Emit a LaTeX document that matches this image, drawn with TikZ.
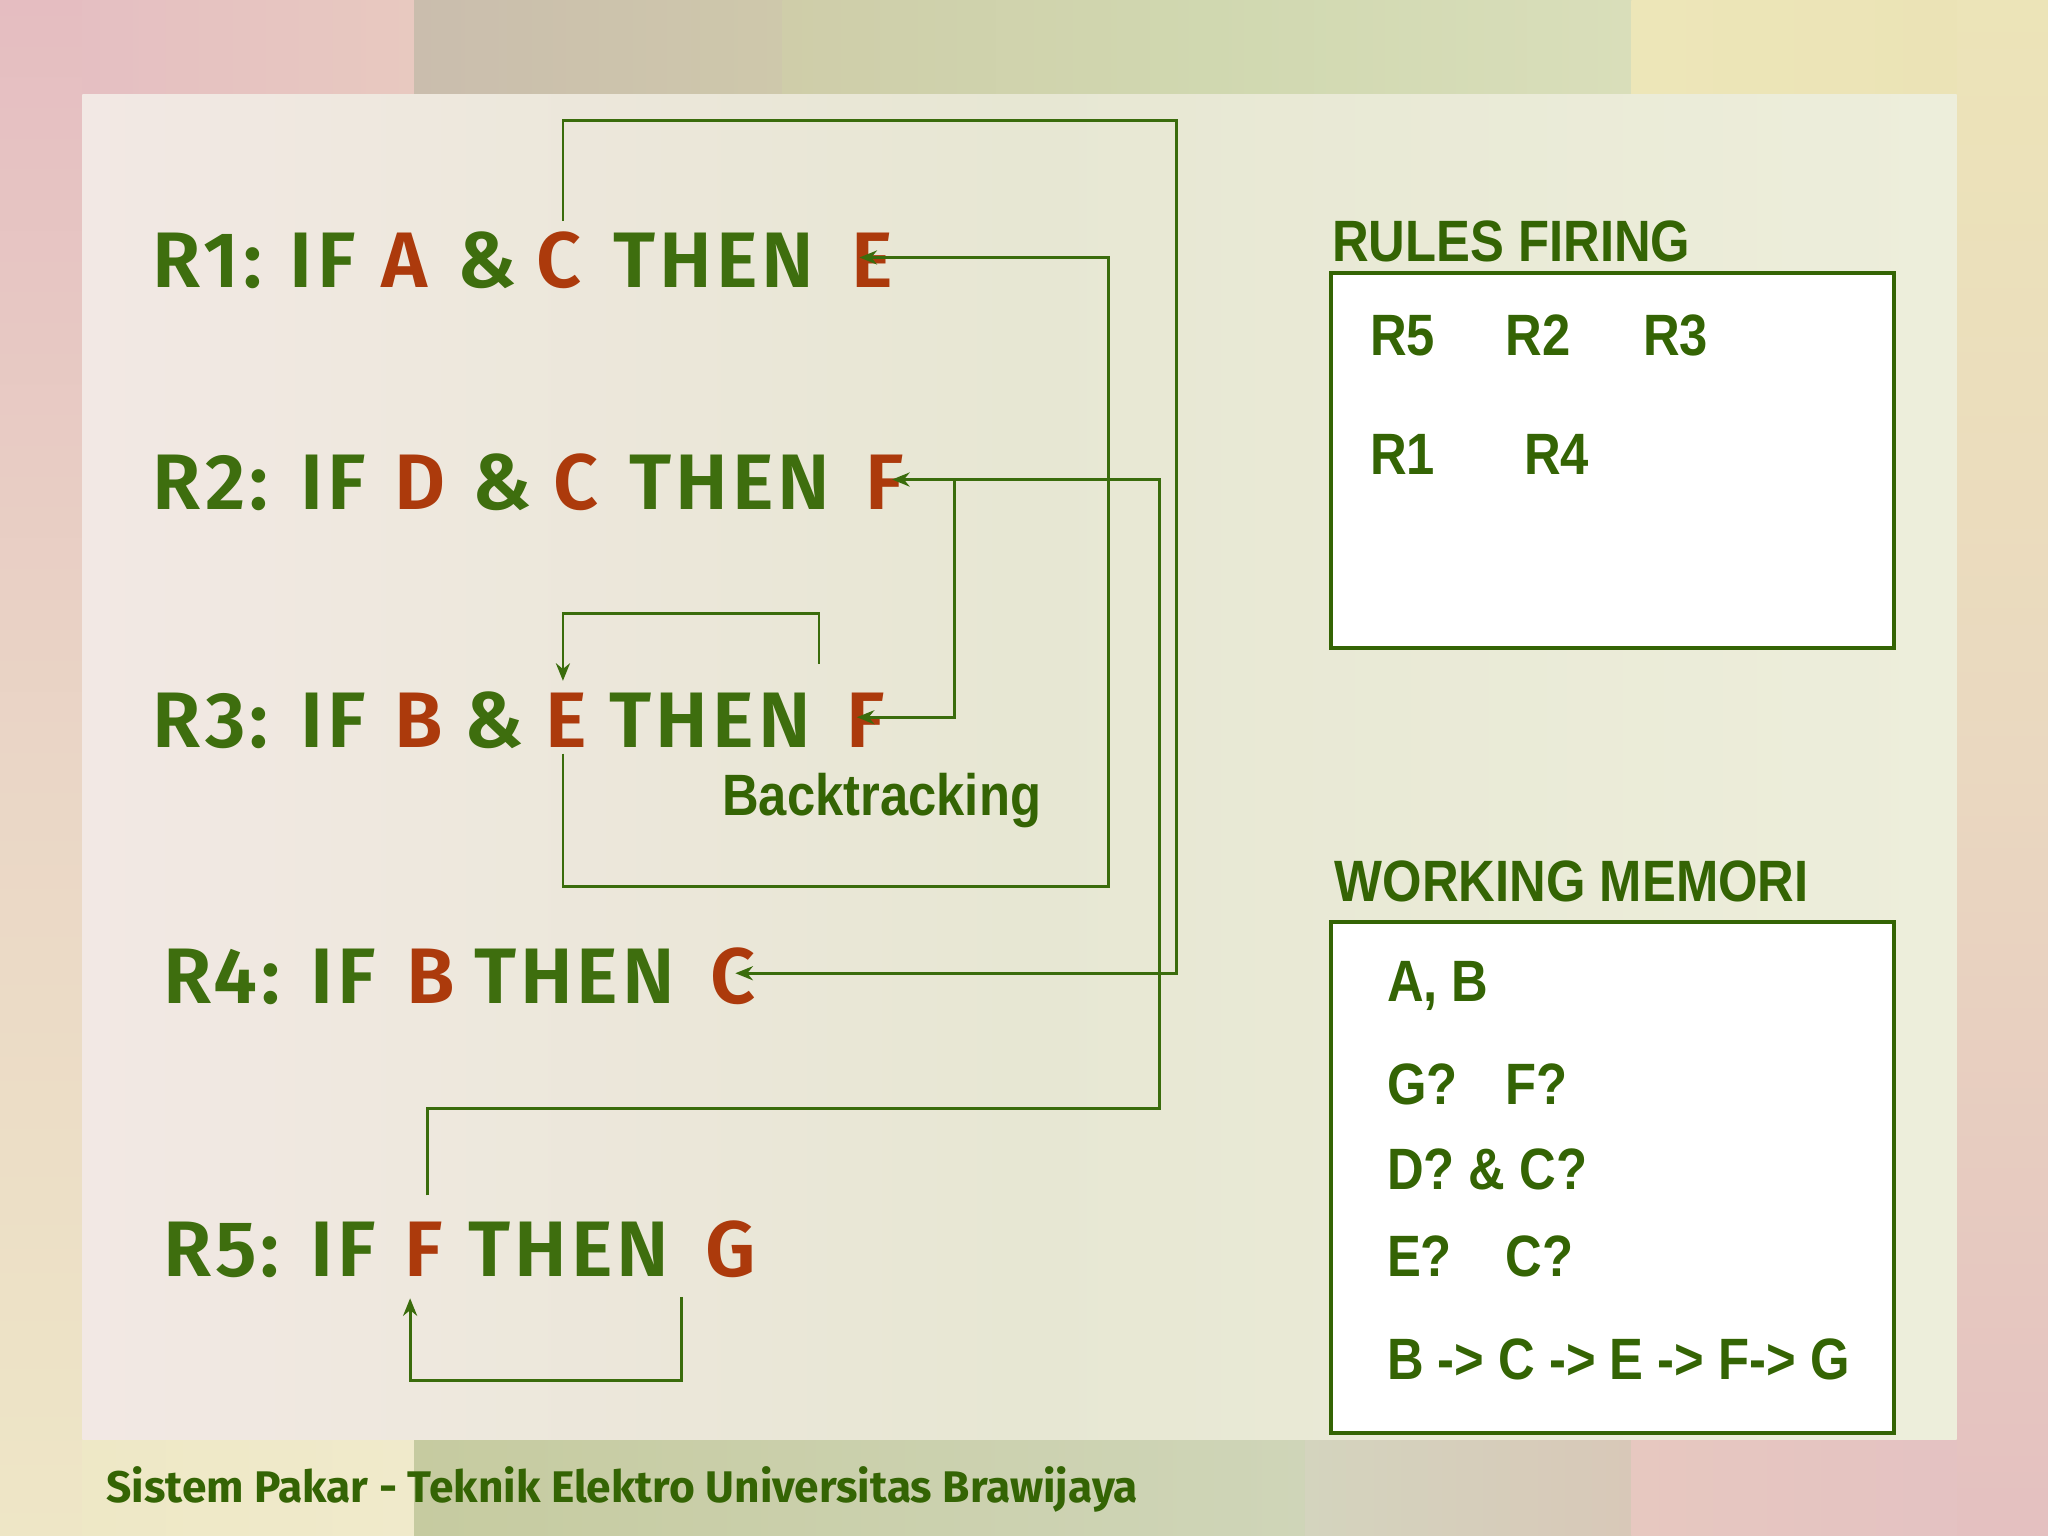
\documentclass[tikz,border=0pt]{standalone}
\usepackage{fontspec}
\setmainfont{Liberation Sans}
\newfontfamily\rulefont[LetterSpace=5]{Fira Sans SemiBold}
\newfontfamily\boxfont[FakeStretch=0.87]{Liberation Sans}
\newfontfamily\footfont{Fira Sans}
\usetikzlibrary{arrows.meta,calc}
\definecolor{rgreen}{RGB}{62,110,14}
\definecolor{rred}{RGB}{172,58,12}
\definecolor{bgreen}{RGB}{52,100,4}
\definecolor{lgreen}{RGB}{58,108,12}
\definecolor{pnlL}{RGB}{242,232,228}
\definecolor{pnlM}{RGB}{231,231,211}
\definecolor{pnlR}{RGB}{237,238,219}
\tikzset{
  rl/.style={anchor=base west, inner sep=0pt, outer sep=0pt, text=rgreen,
    font=\rulefont\fontsize{22.4}{28}\selectfont},
  rv/.style={rl, text=rred},
  bt/.style={anchor=base west, inner sep=0pt, outer sep=0pt, text=bgreen,
    font=\boxfont\bfseries\fontsize{16.6}{20}\selectfont},
  conn/.style={draw=lgreen, line width=0.8pt},
  arr/.style={conn, -{Stealth[length=5pt,width=4pt]}},
  panel/.style={draw=bgreen, line width=1pt, fill=white, anchor=north west,
    inner sep=0pt, outer sep=0pt},
}
\begin{document}
\begin{tikzpicture}[x=0.013061cm,y=-0.013061cm]
\useasboundingbox (0,0) rectangle (1568,1176);
% background margins
\shade[top color={rgb,255:red,229;green,189;blue,193}, bottom color={rgb,255:red,238;green,230;blue,198},
  middle color={rgb,255:red,234;green,214;blue,198}] (0,0) rectangle (64,1176);
\shade[top color={rgb,255:red,236;green,228;blue,184}, bottom color={rgb,255:red,228;green,192;blue,192},
  middle color={rgb,255:red,234;green,216;blue,192}] (1497,0) rectangle (1568,1176);
% top strip
\shade[left color={rgb,255:red,229;green,191;blue,194}, right color={rgb,255:red,232;green,201;blue,192}] (63,0) rectangle (318,73);
\shade[left color={rgb,255:red,202;green,189;blue,173}, right color={rgb,255:red,206;green,200;blue,171}] (317,0) rectangle (600,73);
\shade[left color={rgb,255:red,207;green,205;blue,169}, right color={rgb,255:red,217;green,222;blue,186},
  middle color={rgb,255:red,208;green,216;blue,176}] (599,0) rectangle (1250,73);
\shade[left color={rgb,255:red,237;green,230;blue,184}, right color={rgb,255:red,235;green,227;blue,182}] (1249,0) rectangle (1498,73);
% bottom strip
\shade[left color={rgb,255:red,238;green,232;blue,198}, right color={rgb,255:red,240;green,234;blue,203}] (63,1101) rectangle (318,1176);
\shade[left color={rgb,255:red,198;green,203;blue,160}, right color={rgb,255:red,207;green,213;blue,184}] (317,1101) rectangle (1000,1176);
\shade[left color={rgb,255:red,212;green,212;blue,190}, right color={rgb,255:red,216;green,200;blue,184}] (999,1101) rectangle (1250,1176);
\shade[left color={rgb,255:red,231;green,200;blue,192}, right color={rgb,255:red,228;green,194;blue,194}] (1249,1101) rectangle (1498,1176);
% panel
\shade[left color=pnlL, right color=pnlR, middle color=pnlM] (63,72) rectangle (1498,1102);

% rules
\node[rl] (r1lbl) at (117,220) {R1:};
\node[rl] (r1if) at (222,220) {IF};
\node[rv] (r1a) at (292,220) {A};
\node[rl] (r1amp) at (350,220) {\&};
\node[rv] (r1c) at (411,220) {C};
\node[rl] (r1then) at (470,220) {THEN};
\node[rv] (r1e) at (652,220) {E};

\node[rl] (r2lbl) at (117,390) {R2:};
\node[rl] (r2if) at (230,390) {IF};
\node[rv] (r2d) at (302,390) {D};
\node[rl] (r2amp) at (362,390) {\&};
\node[rv] (r2c) at (424,390) {C};
\node[rl] (r2then) at (482,390) {THEN};
\node[rv] (r2f) at (663,390) {F};

\node[rl] (r3lbl) at (117,572) {R3:};
\node[rl] (r3if) at (230,572) {IF};
\node[rv] (r3b) at (302,572) {B};
\node[rl] (r3amp) at (356,572) {\&};
\node[rv] (r3e) at (418,572) {E};
\node[rl] (r3then) at (467,572) {THEN};
\node[rv] (r3f) at (648,572) {F};

\node[rl] (r4lbl) at (125,768) {R4:};
\node[rl] (r4if) at (238,768) {IF};
\node[rv] (r4b) at (311,768) {B};
\node[rl] (r4then) at (363,768) {THEN};
\node[rv] (r4c) at (544,768) {C};

\node[rl] (r5lbl) at (125,977) {R5:};
\node[rl] (r5if) at (238,977) {IF};
\node[rv] (r5f) at (310,977) {F};
\node[rl] (r5then) at (359,977) {THEN};
\node[rv] (r5g) at (540,977) {G};

\node[bt] (back) at (553,624) {Backtracking};

% connectors
\coordinate (k1) at (901,92);
\draw[arr] ($(r1c.north west)+(20,-8)$) |- (k1) |- ($(r4c.west)+(19,-2)$);
\coordinate (k2) at (849,679);
\draw[arr] ($(r3e.south west)+(13,5)$) |- (k2) |- ($(r1e.west)+(6,-2)$);
\coordinate (k3) at (888,849);
\draw[arr] ($(r5f.north west)+(17,-20)$) |- (k3) |- ($(r2f.west)+(20,-2)$);
\coordinate (br) at ($(r2f.west)+(68,-2)$);
\draw[arr] (br) |- ($(r3f.west)+(8,-2)$);
\coordinate (s5) at (627,508);
\coordinate (k5) at (627,470);
\draw[arr] (s5) -- (k5) -| ($(r3e.north west)+(13,-9)$);
\coordinate (s6) at (522,993);
\coordinate (k6) at (522,1057);
\draw[arr] (s6) -- (k6) -| ($(r5f.south west)+(4,17)$);

% rules firing
\node[bt] (rftitle) at (1020,200) {RULES FIRING};
\node[panel, minimum width=5.629cm, minimum height=3.749cm] (rfbox) at (1019,209) {};
\node[bt] (f5) at (1049,272) {R5};
\node[bt] (f2) at (1153,272) {R2};
\node[bt] (f3) at (1258,272) {R3};
\node[bt] (f1) at (1049,363) {R1};
\node[bt] (f4) at (1167,363) {R4};

% working memori
\node[bt] (wmtitle) at (1022,690) {WORKING MEMORI};
\node[panel, minimum width=5.629cm, minimum height=5.107cm] (wmbox) at (1019,706) {};
\node[bt] (w1) at (1062,767) {A, B};
\node[bt] (w2a) at (1062,846) {G?};
\node[bt] (w2b) at (1153,846) {F?};
\node[bt] (w3) at (1062,911) {D? \& C?};
\node[bt] (w4a) at (1062,977) {E?};
\node[bt] (w4b) at (1153,977) {C?};
\node[bt] (w5) at (1062,1056) {B -> C -> E -> F-> G};

% footer
\node[anchor=base west, inner sep=0pt, text=bgreen, font=\footfont\bfseries\fontsize{12.6}{15}\selectfont] (foot) at (81,1150) {Sistem Pakar - Teknik Elektro Universitas Brawijaya};
\end{tikzpicture}
\end{document}
